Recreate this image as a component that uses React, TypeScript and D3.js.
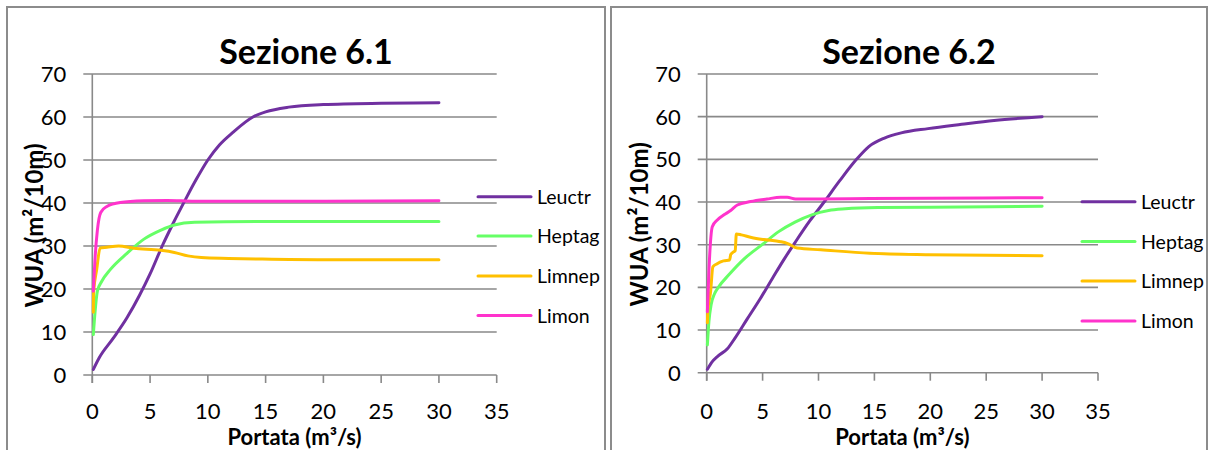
import React from "react";
import * as d3 from "d3";

type Pt = [number, number];

// Sezione 6.1 — WUA (m²/10m) vs portata (m³/s)
const leuctr61: Pt[] = [[0.09,1.3],[0.6,4.0],[1.8,8.5],[3.0,13.3],[4.1,18.6],[5.0,23.5],[6.05,30],[7.0,35.3],[8.0,40.5],[9.0,45.5],[10.0,50],[11.0,53.5],[12.2,56.5],[13.9,60],[15,61.2],[17,62.3],[20,62.9],[25,63.2],[30,63.3]];
const heptag61: Pt[] = [[0.09,9.4],[0.23,14.4],[0.44,19.5],[0.82,21.8],[1.55,24.5],[3.0,28.3],[4.47,31.6],[5.94,33.7],[7.1,34.9],[8.86,35.5],[14.7,35.7],[30,35.7]];
const limnep61: Pt[] = [[0.09,14.6],[0.12,19.5],[0.38,24.5],[0.67,29.5],[1.26,29.7],[2.28,30.0],[3.6,29.5],[5.94,29.0],[7.1,28.5],[8.27,27.7],[9.44,27.3],[11.8,27.1],[14.7,26.95],[20,26.8],[30,26.8]];
const limon61: Pt[] = [[0.09,19.5],[0.23,26.8],[0.44,33.7],[0.73,37.8],[1.26,39.2],[2.43,40.1],[4.47,40.5],[6.5,40.6],[8.86,40.4],[15,40.4],[30,40.5]];

// Sezione 6.2
const leuctr62: Pt[] = [[0.06,0.8],[0.5,2.6],[1,3.9],[1.85,5.6],[2.5,8.0],[3.6,12.5],[4.8,17.4],[5.9,22.2],[6.9,26.5],[7.9,30.5],[9.2,35.5],[10.5,40],[11.9,45],[13.4,50],[14.5,53],[15.9,55],[17.4,56.2],[19.8,57.2],[22.8,58.2],[25.7,59.1],[30,60]];
const heptag62: Pt[] = [[0.06,6.5],[0.2,12],[0.4,16],[0.7,18.5],[1.04,20],[2,23],[3.4,26.8],[5.1,30.3],[6.4,33],[7.9,35.3],[9.4,37],[10.9,38],[12.4,38.4],[15.3,38.7],[20,38.8],[30,39.0]];
const limnep62: Pt[] = [[0.06,11.7],[0.1,14.3],[0.35,19],[0.55,24.8],[0.9,25.5],[1.5,26.2],[2.05,26.4],[2.15,27.7],[2.4,28.3],[2.55,28.6],[2.65,32.5],[3.1,32.3],[4.0,31.7],[5.1,31.2],[6.6,30.7],[7.2,30.3],[8.1,29.2],[10.2,28.8],[14.6,28.0],[19.8,27.65],[30,27.4]];
const limon62: Pt[] = [[0.06,14.3],[0.2,24],[0.5,34.2],[0.95,35.8],[1.55,37],[2.14,38],[2.74,39.3],[3.93,40.1],[5.4,40.7],[6.6,41.1],[7.2,41.1],[7.95,40.7],[10.2,40.7],[14.6,40.8],[30,41.0]];

const seriesNames = ["Leuctr", "Heptag", "Limnep", "Limon"];
const seriesColors = ["#7030A0", "#66FF66", "#FFC000", "#FF33CC"];
const xTicks = [0, 5, 10, 15, 20, 25, 30, 35];
const yTicks = [0, 10, 20, 30, 40, 50, 60, 70];

const FONT = "Lato, 'Open Sans', sans-serif";
const GRID = "#898989";

interface ChartSpec {
  title: string;
  series: Pt[][];
  frame: [number, number];
  plotX: [number, number];
  plotY: [number, number];
  yTitleX: number;
  legendX: number;
  legendY: number[];
}

const charts: ChartSpec[] = [
  {
    title: "Sezione 6.1",
    series: [leuctr61, heptag61, limnep61, limon61],
    frame: [7, 605],
    plotX: [92.3, 496.7],
    plotY: [375, 74],
    yTitleX: 33,
    legendX: 478,
    legendY: [196.7, 236, 276, 315.5],
  },
  {
    title: "Sezione 6.2",
    series: [leuctr62, heptag62, limnep62, limon62],
    frame: [611, 1207],
    plotX: [706.7, 1098],
    plotY: [372.7, 74],
    yTitleX: 638,
    legendX: 1082,
    legendY: [201.7, 241.5, 281, 321],
  },
];

function Chart({ spec }: { spec: ChartSpec }) {
  const x = d3.scaleLinear().domain([0, 35]).range(spec.plotX);
  const y = d3.scaleLinear().domain([0, 70]).range(spec.plotY);
  const line = d3
    .line<Pt>()
    .x((d) => x(d[0]))
    .y((d) => y(d[1]))
    .curve(d3.curveMonotoneX);
  const [fx0, fx1] = spec.frame;
  const x0 = x(0);
  const x35 = x(35);
  const cx = (fx0 + fx1) / 2;
  const plotCx = (x0 + x35) / 2;
  const yMid = (y(0) + y(70)) / 2 + 1;

  return (
    <g>
      <rect x={fx0} y={7} width={fx1 - fx0} height={470} fill="#fff" stroke="#8c8c8c" strokeWidth={2} />
      <text x={cx} y={64} textAnchor="middle" fontFamily={FONT} fontWeight={700} fontSize={34} fill="#000">
        {spec.title}
      </text>
      {/* horizontal gridlines with outward tick marks */}
      {yTicks.map((t) => (
        <line key={"g" + t} x1={x0 - 9} x2={x35} y1={y(t)} y2={y(t)} stroke={GRID} strokeWidth={1.6} />
      ))}
      {/* vertical axis */}
      <line x1={x0} x2={x0} y1={y(70)} y2={y(0) + 8} stroke={GRID} strokeWidth={1.6} />
      {xTicks.map((t) => (
        <line key={"t" + t} x1={x(t)} x2={x(t)} y1={y(0)} y2={y(0) + 8} stroke={GRID} strokeWidth={1.6} />
      ))}
      {yTicks.map((t) => (
        <text key={"yl" + t} x={x0 - 26} y={y(t) + 8} textAnchor="end" fontFamily={FONT} fontSize={22} fill="#000">
          {t}
        </text>
      ))}
      {xTicks.map((t) => (
        <text key={"xl" + t} x={x(t)} y={419} textAnchor="middle" fontFamily={FONT} fontSize={22} fill="#000">
          {t}
        </text>
      ))}
      <text x={plotCx} y={445} textAnchor="middle" fontFamily={FONT} fontWeight={700} fontSize={22} fill="#000">
        Portata (m³/s)
      </text>
      <text
        transform={`translate(${spec.yTitleX},${yMid}) rotate(-90)`}
        textAnchor="middle"
        dominantBaseline="central"
        fontFamily={FONT}
        fontWeight={700}
        fontSize={24}
        fill="#000"
      >
        WUA (m²/10m)
      </text>
      {spec.series.map((s, i) => (
        <path key={"s" + i} d={line(s) || ""} fill="none" stroke={seriesColors[i]} strokeWidth={3} strokeLinecap="round" strokeLinejoin="round" />
      ))}
      {seriesNames.map((n, i) => (
        <g key={"lg" + i}>
          <line x1={spec.legendX} x2={spec.legendX + 53} y1={spec.legendY[i]} y2={spec.legendY[i]} stroke={seriesColors[i]} strokeWidth={3} strokeLinecap="round" />
          <text x={spec.legendX + 59} y={spec.legendY[i] + 7} fontFamily={FONT} fontSize={19.5} fill="#000">
            {n}
          </text>
        </g>
      ))}
    </g>
  );
}

export default function App() {
  return (
    <svg width={1208} height={450} style={{ position: "absolute", left: 0, top: 0, background: "#fff" }}>
      <rect width={1208} height={450} fill="#fff" />
      {charts.map((c) => (
        <Chart key={c.title} spec={c} />
      ))}
    </svg>
  );
}
